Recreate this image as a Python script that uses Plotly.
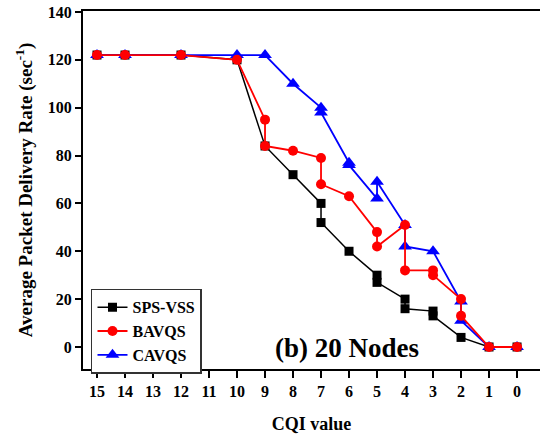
import plotly.graph_objects as go

# CQI values (x) and Average Packet Delivery Rate (y) per scheme
sps_x = [15, 14, 12, 10, 9, 8, 7, 7, 6, 5, 5, 4, 4, 3, 3, 2, 1, 0]
sps_y = [122, 122, 122, 120, 84, 72, 60, 52, 40, 30, 27, 20, 16, 15, 13, 4, 0, 0]

bav_x = [15, 14, 12, 10, 9, 9, 8, 7, 7, 6, 5, 5, 4, 4, 3, 3, 2, 2, 1, 0]
bav_y = [122, 122, 122, 120, 95, 84, 82, 79, 68, 63, 48, 42, 51, 32, 32, 30, 20, 13, 0, 0]

cav_x = [15, 14, 12, 10, 9, 8, 7, 7, 6, 6, 5, 5, 4, 4, 3, 2, 2, 1, 0]
cav_y = [122, 122, 122, 122, 122, 110, 100, 98, 77, 76, 62, 69, 51, 42, 40, 19, 11, 0, 0]

x_ticks = list(range(0, 16))
y_ticks = list(range(0, 141, 20))

FONT = "Liberation Serif, Times New Roman, serif"

fig = go.Figure()
fig.add_trace(go.Scatter(
    x=sps_x, y=sps_y, mode="lines+markers", name="<b>SPS-VSS</b>",
    line=dict(color="#000000", width=1.5),
    marker=dict(symbol="square", size=9, color="#000000"),
    legendrank=1,
))
fig.add_trace(go.Scatter(
    x=cav_x, y=cav_y, mode="lines+markers", name="<b>CAVQS</b>",
    line=dict(color="#0000FF", width=1.8),
    marker=dict(symbol="triangle-up", size=12, color="#0000FF"),
    legendrank=3,
))
fig.add_trace(go.Scatter(
    x=bav_x, y=bav_y, mode="lines+markers", name="<b>BAVQS</b>",
    line=dict(color="#FF0000", width=1.8),
    marker=dict(symbol="circle", size=10, color="#FF0000"),
    legendrank=2,
))

fig.update_layout(
    width=540, height=434,
    margin=dict(l=83, r=0, t=11, b=65),
    paper_bgcolor="white", plot_bgcolor="white",
    font=dict(family=FONT, color="#000000"),
    showlegend=True,
    legend=dict(
        x=0.0175, y=0.224, xanchor="left", yanchor="top",
        bgcolor="white", bordercolor="#333333", borderwidth=1.5,
        font=dict(family=FONT, size=16, color="#000000"),
        tracegroupgap=0, itemwidth=30,
    ),
    annotations=[dict(
        text="<b>(b) 20 Nodes</b>", xref="paper", yref="paper",
        x=0.578, y=0.059, xanchor="center", yanchor="middle",
        showarrow=False, font=dict(family=FONT, size=27, color="#000000"),
    )],
)

fig.update_xaxes(
    range=[15.5, -0.82], tickmode="array", tickvals=x_ticks,
    ticktext=[f"<b>{v}</b>" for v in x_ticks],
    ticks="outside", ticklen=7, tickwidth=1.5, tickcolor="#000000",
    showline=True, linecolor="#000000", linewidth=2, mirror=True,
    showgrid=False, zeroline=False,
    tickfont=dict(family=FONT, size=16, color="#000000"),
    title=dict(text="<b>CQI value</b>", font=dict(family=FONT, size=18, color="#000000"), standoff=22),
)
fig.update_yaxes(
    range=[-9.2, 140.4], tickmode="array", tickvals=y_ticks,
    ticktext=[f"<b>{v}</b>" for v in y_ticks],
    ticks="outside", ticklen=6, tickwidth=1.5, tickcolor="#000000",
    showline=True, linecolor="#000000", linewidth=2,
    showgrid=False, zeroline=False,
    tickfont=dict(family=FONT, size=16, color="#000000"),
    title=dict(text="<b>Average Packet Delivery Rate (sec<sup>-1</sup>)</b>",
               font=dict(family=FONT, size=19, color="#000000"), standoff=10),
)

fig.write_html("out.html")
